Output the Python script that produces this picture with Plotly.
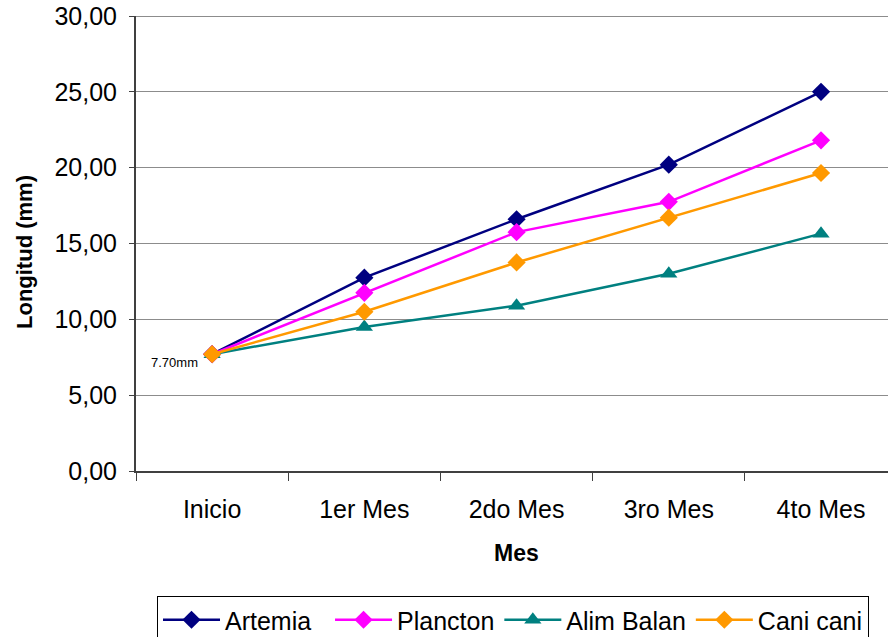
import plotly.graph_objects as go

categorias = ["Inicio", "1er Mes", "2do Mes", "3ro Mes", "4to Mes"]
artemia = [7.70, 12.75, 16.60, 20.20, 25.00]
plancton = [7.70, 11.75, 15.75, 17.75, 21.80]
alim_balan = [7.70, 9.50, 10.90, 13.00, 15.65]
cani_cani = [7.70, 10.50, 13.75, 16.70, 19.65]
y_ticks = [0, 5, 10, 15, 20, 25, 30]

NB = "\u00a0"
series = [
    ("Artemia", artemia, "#000080", "diamond", 14, 2),
    ("Plancton", plancton, "#FF00FF", "diamond", 14, 0),
    ("Alim Balan", alim_balan, "#008080", "triangle-up", 15, 0),
    ("Cani cani", cani_cani, "#FF9900", "diamond", 14, 0),
]

FONT = "Liberation Sans, Arial, sans-serif"

fig = go.Figure()
for name, vals, color, sym, msize, pad in series:
    fig.add_trace(go.Scatter(
        x=categorias, y=vals, name=name + NB * pad, mode="lines+markers",
        line=dict(color=color, width=2.5),
        marker=dict(symbol=sym, size=msize, color=color),
    ))

L, T, R, B = 136, 16, 0, 166
W, H = 888, 637
pw = W - L - R
ph = H - T - B

fig.update_layout(
    width=W, height=H,
    margin=dict(l=L, r=R, t=T, b=B, pad=0),
    paper_bgcolor="white", plot_bgcolor="white",
    separators=",.",
    font=dict(family=FONT, size=25, color="black"),
    showlegend=True,
    legend=dict(
        orientation="h", xref="container", yref="container",
        x=157 / W, xanchor="left",
        y=1 - 596 / H, yanchor="top",
        bordercolor="black", borderwidth=1,
        font=dict(family=FONT, size=25, color="black"),
        itemwidth=57,
    ),
    xaxis=dict(
        type="category", range=[-0.5, 4.44],
        showgrid=False, showline=True, linecolor="#404040", linewidth=2,
        ticks="outside", tickson="boundaries", ticklen=8, tickcolor="#404040",
        ticklabelstandoff=15,
        tickfont=dict(family=FONT, size=25, color="black"),
    ),
    yaxis=dict(
        range=[0, 30], tickvals=y_ticks, tickformat=".2f",
        showgrid=True, gridcolor="#8c8c8c", gridwidth=1,
        showline=True, linecolor="#404040", linewidth=2,
        ticks="outside", ticklen=5, tickcolor="#404040",
        ticklabelstandoff=7, zeroline=False,
        tickfont=dict(family=FONT, size=25, color="black"),
    ),
    shapes=[
        dict(type="line", xref="paper", yref="y", x0=0, x1=1, y0=30, y1=30,
             line=dict(color="#8c8c8c", width=2), layer="below"),
    ],
    annotations=[
        dict(text="<b>Longitud (mm)</b>", xref="paper", yref="paper",
             x=(25 - L) / pw, y=(471 - 252) / ph, textangle=-90,
             showarrow=False, xanchor="center", yanchor="middle",
             font=dict(family=FONT, size=22, color="black")),
        dict(text="<b>Mes</b>", xref="x", yref="paper",
             x="2do Mes", y=(471 - 553) / ph,
             showarrow=False, xanchor="center", yanchor="middle",
             font=dict(family=FONT, size=23, color="black")),
        dict(text="7.70mm", xref="paper", yref="paper",
             x=(174 - L) / pw, y=(471 - 362) / ph,
             showarrow=False, xanchor="center", yanchor="middle",
             font=dict(family=FONT, size=13, color="black")),
    ],
)

fig.write_html("out.html", config={"displayModeBar": False},
               post_script="document.body.style.margin='0';")
